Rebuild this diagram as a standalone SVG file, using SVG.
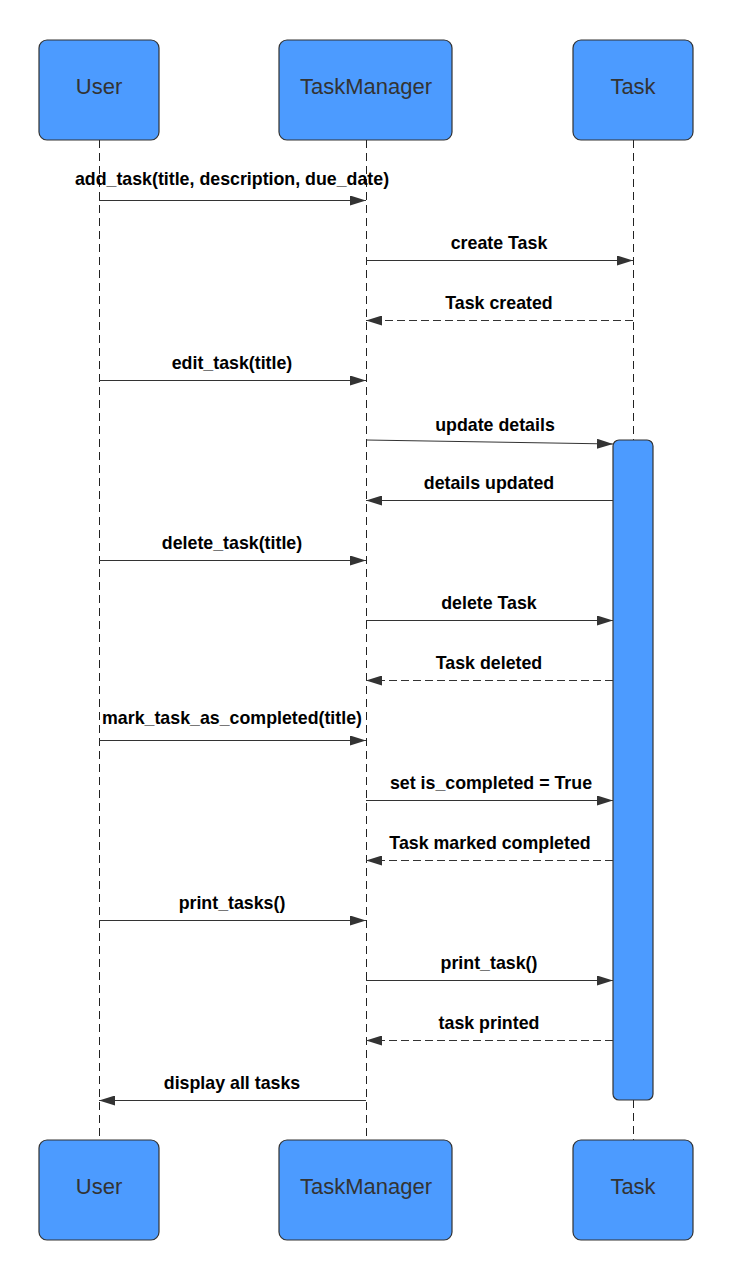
<svg xmlns="http://www.w3.org/2000/svg" width="733" height="1280" viewBox="0 0 733 1280">
<style>
.box{fill:#4C9BFF;stroke:#333333;stroke-width:1.2}
.name{font-family:"Liberation Sans",Arial,sans-serif;font-size:22px;fill:#333333;text-anchor:middle}
.life{stroke:#222222;stroke-width:1;stroke-dasharray:8,5;fill:none}
.msg{stroke:#333333;stroke-width:1;fill:none}
.ret{stroke:#333333;stroke-width:1;fill:none;stroke-dasharray:8,4}
.lbl{font-family:"Liberation Sans",Arial,sans-serif;font-size:17.8px;font-weight:bold;fill:#000000;text-anchor:middle}
</style>
<defs>
<marker id="ah" markerWidth="16" markerHeight="10" refX="16" refY="5" orient="auto" markerUnits="userSpaceOnUse">
<path d="M0,0 L16,5 L0,10 Z" fill="#333333"/>
</marker>
</defs>
<rect width="733" height="1280" fill="#ffffff"/>
<g id="lifelines">
<line class="life" x1="99.5" y1="140" x2="99.5" y2="1140"/>
<line class="life" x1="366.5" y1="140" x2="366.5" y2="1140"/>
<line class="life" x1="633.5" y1="140" x2="633.5" y2="440"/>
<line class="life" x1="633.5" y1="1100" x2="633.5" y2="1140"/>
</g>
<g id="user-top"><rect class="box" x="39" y="40" width="120" height="100" rx="8"/><text class="name" x="99" y="94">User</text></g>
<g id="taskmanager-top"><rect class="box" x="279" y="40" width="173" height="100" rx="8"/><text class="name" x="366" y="94">TaskManager</text></g>
<g id="task-top"><rect class="box" x="573" y="40" width="120" height="100" rx="8"/><text class="name" x="633" y="94">Task</text></g>
<g id="user-bottom"><rect class="box" x="39" y="1140" width="120" height="100" rx="8"/><text class="name" x="99" y="1194">User</text></g>
<g id="taskmanager-bottom"><rect class="box" x="279" y="1140" width="173" height="100" rx="8"/><text class="name" x="366" y="1194">TaskManager</text></g>
<g id="task-bottom"><rect class="box" x="573" y="1140" width="120" height="100" rx="8"/><text class="name" x="633" y="1194">Task</text></g>
<g id="activation"><rect class="box" x="613" y="440" width="40" height="660" rx="6"/></g>
<g id="connectors">
<line class="msg" x1="99" y1="200.5" x2="366" y2="200.5" marker-end="url(#ah)"/>
<line class="msg" x1="366" y1="260.5" x2="633" y2="260.5" marker-end="url(#ah)"/>
<line class="ret" x1="633" y1="320.5" x2="366" y2="320.5" marker-end="url(#ah)"/>
<line class="msg" x1="99" y1="380.5" x2="366" y2="380.5" marker-end="url(#ah)"/>
<line class="msg" x1="366" y1="440" x2="613" y2="444" marker-end="url(#ah)"/>
<line class="msg" x1="613" y1="500.5" x2="366" y2="500.5" marker-end="url(#ah)"/>
<line class="msg" x1="99" y1="560.5" x2="366" y2="560.5" marker-end="url(#ah)"/>
<line class="msg" x1="366" y1="620.5" x2="613" y2="620.5" marker-end="url(#ah)"/>
<line class="ret" x1="613" y1="680.5" x2="366" y2="680.5" marker-end="url(#ah)"/>
<line class="msg" x1="99" y1="740.5" x2="366" y2="740.5" marker-end="url(#ah)"/>
<line class="msg" x1="366" y1="800.5" x2="613" y2="800.5" marker-end="url(#ah)"/>
<line class="ret" x1="613" y1="860.5" x2="366" y2="860.5" marker-end="url(#ah)"/>
<line class="msg" x1="99" y1="920.5" x2="366" y2="920.5" marker-end="url(#ah)"/>
<line class="msg" x1="366" y1="980.5" x2="613" y2="980.5" marker-end="url(#ah)"/>
<line class="ret" x1="613" y1="1040.5" x2="366" y2="1040.5" marker-end="url(#ah)"/>
<line class="msg" x1="366" y1="1100.5" x2="99" y2="1100.5" marker-end="url(#ah)"/>
</g>
<g id="labels">
<text class="lbl" x="232" y="185">add_task(title, description, due_date)</text>
<text class="lbl" x="499" y="249">create Task</text>
<text class="lbl" x="499" y="309">Task created</text>
<text class="lbl" x="232" y="369">edit_task(title)</text>
<text class="lbl" x="495" y="431">update details</text>
<text class="lbl" x="489" y="489">details updated</text>
<text class="lbl" x="232" y="549">delete_task(title)</text>
<text class="lbl" x="489" y="609">delete Task</text>
<text class="lbl" x="489" y="669">Task deleted</text>
<text class="lbl" x="232" y="724">mark_task_as_completed(title)</text>
<text class="lbl" x="491" y="789">set is_completed = True</text>
<text class="lbl" x="490" y="849">Task marked completed</text>
<text class="lbl" x="232" y="909">print_tasks()</text>
<text class="lbl" x="489" y="969">print_task()</text>
<text class="lbl" x="489" y="1029">task printed</text>
<text class="lbl" x="232" y="1089">display all tasks</text>
</g>
</svg>
